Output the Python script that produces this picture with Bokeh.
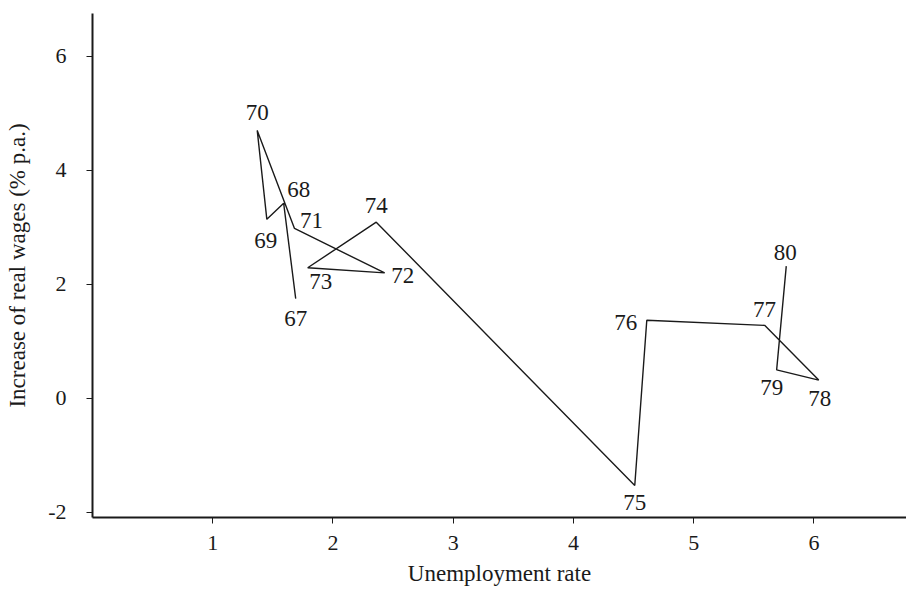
from bokeh.plotting import figure
from bokeh.models import ColumnDataSource, FixedTicker, Range1d
from bokeh.core.properties import value
from bokeh.embed import file_html
from bokeh.resources import INLINE

# data
years = ["67", "68", "69", "70", "71", "72", "73", "74", "75", "76", "77", "78", "79", "80"]
unemployment = [1.69, 1.59, 1.45, 1.37, 1.68, 2.43, 1.79, 2.36, 4.51, 4.61, 5.59, 6.04, 5.69, 5.77]
real_wage_growth = [1.75, 3.42, 3.14, 4.70, 2.98, 2.20, 2.29, 3.09, -1.53, 1.37, 1.28, 0.32, 0.50, 2.32]
x_ticks = [1, 2, 3, 4, 5, 6]
y_ticks = [-2, 0, 2, 4, 6]
y_tick_labels = {-2: "-2"}

# label offsets in screen pixels (x right, y down)
label_dx = [0, 15, -1, 0, 17, 18, 13, 0, 0, -21, 0, 1, -5, -1]
label_dy = [20, -14, 21, -18, -8, 3, 14, -17, 17, 2, -16, 18, 18, -14]

FONT = "Liberation Serif"
INK = "#1a1a1a"

src = ColumnDataSource(dict(x=unemployment, y=real_wage_growth, t=years,
                            dx=label_dx, dy=label_dy))

p = figure(width=906, height=590, output_backend="svg", toolbar_location=None,
           x_range=Range1d(0, 6.77), y_range=Range1d(-2.09, 6.75),
           min_border_left=92, min_border_top=13, min_border_right=0,
           min_border_bottom=73)
p.outline_line_color = None
p.grid.visible = False
p.background_fill_color = "white"
p.border_fill_color = "white"

p.line("x", "y", source=src, line_color=INK, line_width=1.4)
p.text("x", "y", text="t", source=src, x_offset="dx", y_offset="dy",
       text_align="center", text_baseline="middle",
       text_font=value(FONT), text_font_size="23px", text_color=INK)

for ax in (p.xaxis[0], p.yaxis[0]):
    ax.axis_line_color = INK
    ax.axis_line_width = 2
    ax.major_tick_line_color = INK
    ax.major_tick_line_width = 1
    ax.major_tick_in = 0
    ax.major_tick_out = 6
    ax.minor_tick_line_color = None
    ax.major_label_text_font = FONT
    ax.major_label_text_font_size = "22px"
    ax.major_label_text_color = INK
    ax.axis_label_text_font = FONT
    ax.axis_label_text_font_size = "23px"
    ax.axis_label_text_font_style = "normal"
    ax.axis_label_text_color = INK

p.xaxis.ticker = FixedTicker(ticks=x_ticks)
p.yaxis.ticker = FixedTicker(ticks=y_ticks)
p.yaxis.major_label_overrides = y_tick_labels
p.xaxis.axis_label = "Unemployment rate"
p.yaxis.axis_label = "Increase of real wages (% p.a.)"
p.xaxis.major_label_standoff = 12
p.xaxis.axis_label_standoff = 8
p.yaxis.major_label_standoff = 20
p.yaxis.axis_label_standoff = 15

open("out.html", "w").write(file_html(p, INLINE))
